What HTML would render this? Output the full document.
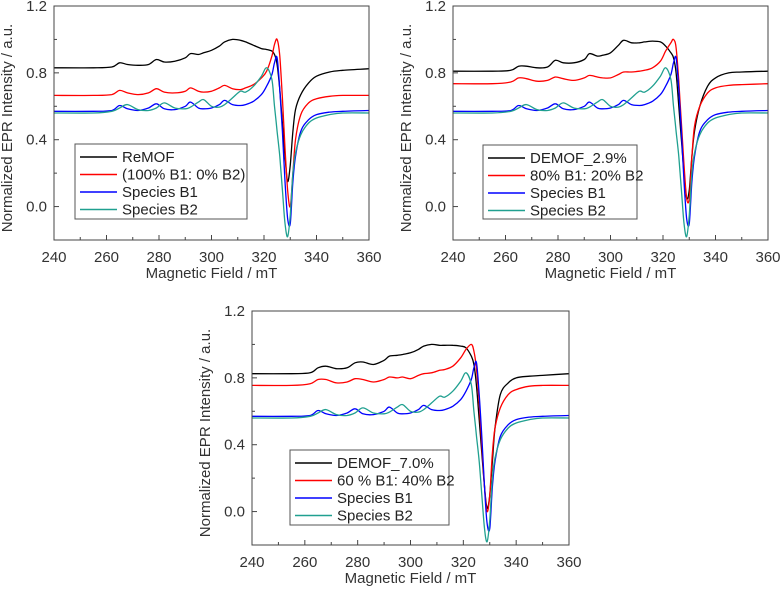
<!DOCTYPE html>
<html><head><meta charset="utf-8">
<style>
body{margin:0;background:#fff;}
svg{display:block;font-family:"Liberation Sans",Arial,sans-serif;}
</style></head>
<body>
<svg id="fig" width="780" height="590" viewBox="0 0 780 590"></svg>
<script>
const fields=[240,255,262,265,268,272,276,279,282,286,290,292,295,297,300,303,305,308,311,313,316,319,321,323,324,325,326,327,328,329,330,331,332,334,337,340,345,350,360];
const speciesB1=[0.57,0.57,0.575,0.605,0.585,0.575,0.59,0.615,0.585,0.58,0.6,0.625,0.59,0.585,0.59,0.61,0.635,0.61,0.605,0.61,0.63,0.67,0.72,0.79,0.86,0.89,0.7,0.45,0.15,-0.07,-0.1,0.15,0.3,0.45,0.52,0.55,0.565,0.57,0.575];
const speciesB2=[0.56,0.56,0.57,0.59,0.61,0.58,0.575,0.59,0.62,0.59,0.585,0.595,0.625,0.64,0.6,0.595,0.61,0.65,0.69,0.685,0.72,0.78,0.83,0.76,0.6,0.45,0.3,0.1,-0.1,-0.18,-0.05,0.2,0.32,0.43,0.5,0.53,0.55,0.56,0.56];
const remof=[0.83,0.83,0.835,0.86,0.85,0.845,0.85,0.88,0.865,0.87,0.89,0.915,0.91,0.92,0.935,0.96,0.985,1.0,0.995,0.985,0.965,0.945,0.94,0.93,0.91,0.85,0.7,0.5,0.3,0.15,0.25,0.45,0.58,0.67,0.74,0.78,0.805,0.815,0.825];
const sim100=[0.665,0.665,0.67,0.695,0.68,0.67,0.68,0.705,0.685,0.68,0.69,0.71,0.69,0.685,0.69,0.71,0.725,0.705,0.7,0.71,0.73,0.77,0.81,0.9,0.97,1.0,0.9,0.65,0.35,0.1,0.0,0.2,0.4,0.55,0.62,0.645,0.66,0.665,0.665];
const demof29=[0.81,0.81,0.815,0.84,0.84,0.83,0.835,0.875,0.86,0.86,0.88,0.915,0.9,0.905,0.92,0.965,0.995,0.98,0.98,0.985,0.99,0.985,0.96,0.92,0.89,0.8,0.6,0.4,0.2,0.05,0.1,0.3,0.45,0.6,0.72,0.77,0.8,0.805,0.81];
const sim80=[0.735,0.735,0.745,0.77,0.765,0.75,0.755,0.775,0.765,0.755,0.77,0.785,0.775,0.77,0.77,0.79,0.805,0.805,0.81,0.815,0.83,0.87,0.93,0.98,1.0,0.95,0.75,0.5,0.25,0.05,0.05,0.3,0.48,0.6,0.68,0.71,0.725,0.73,0.735];
const demof70=[0.825,0.825,0.83,0.86,0.87,0.855,0.86,0.89,0.895,0.88,0.905,0.93,0.935,0.94,0.95,0.97,0.99,1.0,0.995,0.995,0.995,0.99,0.98,0.93,0.88,0.75,0.55,0.35,0.15,0.02,0.1,0.3,0.5,0.7,0.77,0.8,0.81,0.815,0.825];
const sim60=[0.755,0.755,0.765,0.79,0.79,0.77,0.775,0.795,0.79,0.775,0.79,0.805,0.8,0.805,0.795,0.815,0.825,0.83,0.845,0.85,0.87,0.92,0.97,1.0,0.96,0.85,0.65,0.4,0.15,0.0,0.1,0.35,0.5,0.62,0.7,0.73,0.75,0.755,0.755];
const xTicks=[240,260,280,300,320,340,360];
const yTicks=[0.0,0.4,0.8,1.2];
const panelLegends=[["ReMOF","(100% B1: 0% B2)","Species B1","Species B2"],["DEMOF_2.9%","80% B1: 20% B2","Species B1","Species B2"],["DEMOF_7.0%","60 % B1: 40% B2","Species B1","Species B2"]];
const colors=["#000000","#ff0000","#0000ff","#20a090"];

const NS="http://www.w3.org/2000/svg";
const svg=document.getElementById('fig');
function mk(tag,attrs,parent){const e=document.createElementNS(NS,tag);for(const k in attrs)e.setAttribute(k,attrs[k]);(parent||svg).appendChild(e);return e;}

const panels=[
 {x0:54,x1:369,y0:6,y1:240,series:[remof,sim100,speciesB1,speciesB2],leg:{x:75,y:144,w:172,h:75},name:'panel-remof'},
 {x0:453,x1:768,y0:6,y1:240,series:[demof29,sim80,speciesB1,speciesB2],leg:{x:483,y:145,w:154,h:74},name:'panel-demof-2-9'},
 {x0:252,x1:569,y0:311,y1:545,series:[demof70,sim60,speciesB1,speciesB2],leg:{x:290,y:450,w:159,h:75},name:'panel-demof-7-0'}
];
const serNames=['sample-line','simulation-line','species-b1-line','species-b2-line'];

panels.forEach((p,pi)=>{
 const g=mk('g',{});
 
 
 const sx=v=>p.x0+(v-240)/(120)*(p.x1-p.x0);
 const sy=v=>p.y1-(v+0.2)/1.4*(p.y1-p.y0);
 p.series.forEach((vals,si)=>{
  const pts=fields.map((f,i)=>[sx(f),sy(vals[i])]);
  let d='M'+pts[0][0].toFixed(1)+','+pts[0][1].toFixed(1);
  for(let i=0;i<pts.length-1;i++){
   const p0=pts[Math.max(0,i-1)],p1=pts[i],p2=pts[i+1],p3=pts[Math.min(pts.length-1,i+2)];
   const c1=[p1[0]+(p2[0]-p0[0])/6,p1[1]+(p2[1]-p0[1])/6];
   const c2=[p2[0]-(p3[0]-p1[0])/6,p2[1]-(p3[1]-p1[1])/6];
   d+=' C'+c1[0].toFixed(1)+','+c1[1].toFixed(1)+' '+c2[0].toFixed(1)+','+c2[1].toFixed(1)+' '+p2[0].toFixed(1)+','+p2[1].toFixed(1);
  }
  const path=mk('path',{d:d,fill:'none',stroke:colors[si],'stroke-width':1.3},g);
  
  
 });
 const fr=mk('rect',{x:p.x0,y:p.y0,width:p.x1-p.x0,height:p.y1-p.y0,fill:'none',stroke:'#444','stroke-width':1},g);
 
 
 for(let v=240;v<=360;v+=10){
  const major=(v%20===0);
  mk('line',{x1:sx(v),x2:sx(v),y1:p.y1,y2:p.y1-(major?5:3),stroke:'#444','stroke-width':1},g);
 }
 xTicks.forEach(v=>{
  const t=mk('text',{x:sx(v),y:p.y1+22,'text-anchor':'middle','font-size':15,fill:'#333'},g);
  t.textContent=v;
  
  
 });
 for(let v=-0.2;v<=1.21;v+=0.2){
  const major=Math.abs(Math.round(v*10)%4)===0;
  mk('line',{x1:p.x0,x2:p.x0+(major?5:3),y1:sy(v),y2:sy(v),stroke:'#444','stroke-width':1},g);
 }
 yTicks.forEach(v=>{
  const t=mk('text',{x:p.x0-7,y:sy(v)+5,'text-anchor':'end','font-size':15,fill:'#333'},g);
  t.textContent=v.toFixed(1);
  
  
 });
 const xt=mk('text',{x:(p.x0+p.x1)/2,y:p.y1+38,'text-anchor':'middle','font-size':15,fill:'#333'},g);
 xt.textContent='Magnetic Field / mT';
 
 
 const yc=(p.y0+p.y1)/2+5, yx=p.x0-42;
 const yt=mk('text',{x:yx,y:yc,'text-anchor':'middle','font-size':15,fill:'#333',transform:'rotate(-90 '+yx+' '+yc+')'},g);
 yt.textContent='Normalized EPR Intensity / a.u.';
 
 
 const L=p.leg;
 const lg=mk('g',{},g);
 
 
 mk('rect',{x:L.x,y:L.y,width:L.w,height:L.h,fill:'#fff',stroke:'#555','stroke-width':1},lg);
 panelLegends[pi].forEach((lab,i)=>{
  const ry=L.y+13+i*17.5;
  const e=mk('g',{},lg);
  
  
  mk('line',{x1:L.x+5,x2:L.x+42,y1:ry,y2:ry,stroke:colors[i],'stroke-width':1.5},e);
  const t=mk('text',{x:L.x+47,y:ry+5,'font-size':15,fill:'#222'},e);
  t.textContent=lab;
 });
});
</script>
</body></html>
